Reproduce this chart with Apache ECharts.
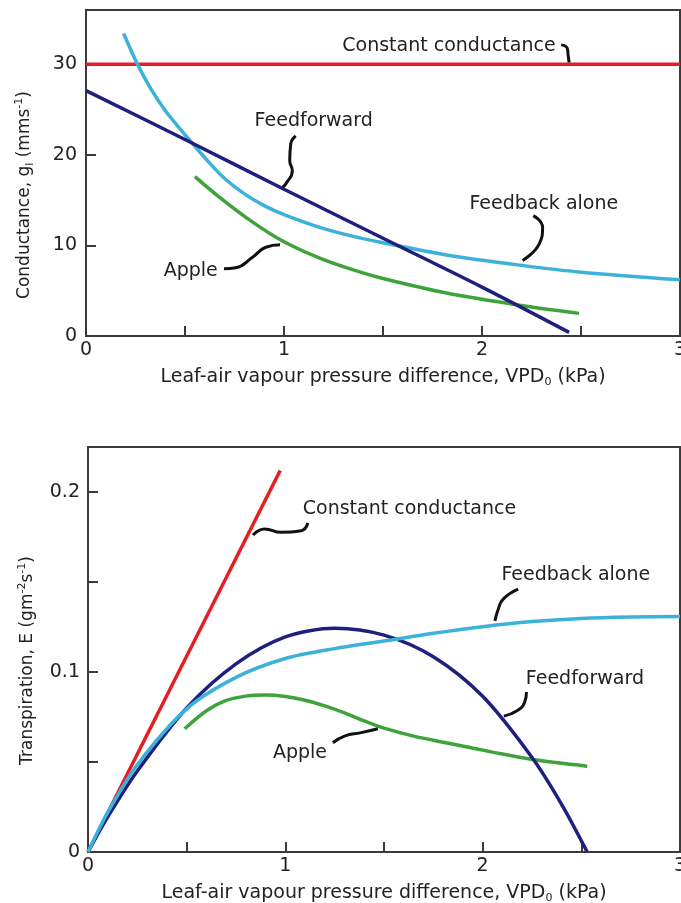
<!DOCTYPE html>
<html>
<head>
<meta charset="utf-8">
<script src="https://cdn.jsdelivr.net/npm/echarts@6/dist/echarts.min.js"></script>
<style>
  html, body { margin: 0; padding: 0; background: #fff; }
  #main { width: 681px; height: 903px; }
</style>
</head>
<body>
<div id="main"></div>
<script>
// tick labels
var xLabels = [0, 1, 2, 3];
var gLabels = [0, 10, 20, 30];
var eLabels = [0, 0.1, 0.2];

// top panel: conductance g (mm s-1) vs VPD (kPa)
var gConstVpd = [0, 3];
var gConst = [30, 30];
var gFfVpd = [0, 0.5, 1, 1.5, 2, 2.44];
var gFf = [27.1, 21.7, 16.2, 10.8, 5.4, 0.4];
var gFbVpd = [0.19, 0.26, 0.33, 0.40, 0.47, 0.54, 0.62, 0.70, 0.80, 0.90, 1.0, 1.18, 1.35, 1.5, 1.82, 2.2, 2.5, 3.0];
var gFb = [33.4, 30.0, 27.2, 24.9, 23.0, 21.2, 19.2, 17.4, 15.7, 14.4, 13.4, 12.0, 11.0, 10.3, 8.95, 7.8, 7.05, 6.2];
var gAppleVpd = [0.55, 0.67, 0.84, 1.0, 1.18, 1.35, 1.5, 1.82, 2.19, 2.49];
var gApple = [17.6, 15.4, 12.6, 10.4, 8.6, 7.3, 6.35, 4.75, 3.4, 2.5];

// bottom panel: transpiration E (g m-2 s-1) vs VPD (kPa)
var eConstVpd = [0, 0.974];
var eConst = [0, 0.2119];
var eFfVpd = [0, 0.1, 0.25, 0.5, 0.75, 1.0, 1.25, 1.5, 1.75, 2.0, 2.25, 2.4, 2.53];
var eFf = [0, 0.0195, 0.045, 0.080, 0.1045, 0.1195, 0.1243, 0.1205, 0.1085, 0.0865, 0.0525, 0.0265, 0];
var eFbVpd = [0, 0.1, 0.25, 0.5, 0.75, 1.0, 1.25, 1.5, 1.75, 2.0, 2.25, 2.5, 2.75, 3.0];
var eFb = [0, 0.022, 0.0485, 0.0795, 0.097, 0.1075, 0.113, 0.1172, 0.1215, 0.1252, 0.128, 0.1297, 0.1305, 0.1308];
var eAppleVpd = [0.49, 0.6, 0.7, 0.8, 0.9, 1.0, 1.1, 1.2, 1.3, 1.4, 1.5, 1.65, 1.82, 2.05, 2.26, 2.53];
var eApple = [0.0685, 0.0785, 0.0842, 0.0866, 0.0872, 0.0864, 0.0843, 0.0812, 0.0773, 0.0728, 0.0688, 0.0644, 0.0606, 0.0555, 0.0512, 0.0477];

// curve labels and their little hand-drawn leaders (data coords)
var topNotes = [
  { name: 'Constant conductance', at: [1.833, 32.0],
    leader: [[2.40, 32.15], [2.43, 31.8], [2.435, 31.0], [2.44, 30.2]] },
  { name: 'Feedforward', at: [1.15, 23.74],
    leader: [[1.059, 22.1], [1.034, 21.2], [1.029, 19.35], [1.042, 18.25], [1.009, 16.8], [0.992, 16.4]] },
  { name: 'Feedback alone', at: [2.312, 14.56],
    leader: [[2.259, 13.3], [2.306, 12.0], [2.289, 10.18], [2.205, 8.34]] },
  { name: 'Apple', at: [0.529, 7.18],
    leader: [[0.697, 7.42], [0.756, 7.53], [0.841, 8.7], [0.908, 9.8], [0.98, 10.07]] }
];
var bottomNotes = [
  { name: 'Constant conductance', at: [1.629, 0.1906],
    leader: [[1.114, 0.1828], [1.081, 0.1785], [0.979, 0.1776], [0.895, 0.1795], [0.836, 0.1761]] },
  { name: 'Feedback alone', at: [2.472, 0.1536],
    leader: [[2.18, 0.146], [2.104, 0.1405], [2.079, 0.1349], [2.062, 0.1284]] },
  { name: 'Feedforward', at: [2.518, 0.0962],
    leader: [[2.222, 0.0889], [2.212, 0.083], [2.172, 0.0783], [2.107, 0.0755]] },
  { name: 'Apple', at: [1.074, 0.0547],
    leader: [[1.241, 0.0607], [1.3, 0.0644], [1.384, 0.0663], [1.469, 0.0685]] }
];

var FONT = 'DejaVu Sans';
var AXIS = '#3a3a3a';
var TEXT = '#222';
var RED = '#e31e24', NAVY = '#1f1f7d', CYAN = '#3cb2da', GREEN = '#3ea33a';

function pairs(xs, ys) {
  return xs.map(function (x, i) { return [x, ys[i]]; });
}

function hasLabel(list, v) {
  for (var i = 0; i < list.length; i++) {
    if (Math.abs(list[i] - v) < 1e-9) return String(list[i]);
  }
  return '';
}

function curve(name, data, color, idx) {
  return {
    name: name, type: 'line', data: data, xAxisIndex: idx, yAxisIndex: idx,
    smooth: 0.3, symbol: 'none', silent: true,
    lineStyle: { color: color, width: 3.5 }
  };
}

function noteSeries(notes, idx) {
  var out = [];
  notes.forEach(function (n) {
    out.push({
      type: 'line', data: n.leader, xAxisIndex: idx, yAxisIndex: idx,
      smooth: 0.5, symbol: 'none', silent: true,
      lineStyle: { color: '#111', width: 3 }
    });
  });
  out.push({
    type: 'scatter', xAxisIndex: idx, yAxisIndex: idx, silent: true,
    symbolSize: 0, itemStyle: { opacity: 1 },
    data: notes.map(function (n) { return { name: n.name, value: n.at }; }),
    label: { show: true, position: 'inside', formatter: '{b}', opacity: 1,
      fontFamily: FONT, fontSize: 19, color: TEXT }
  });
  return out;
}

var subRich = {
  sub: { fontSize: 11, fontFamily: FONT, color: TEXT, verticalAlign: 'bottom', lineHeight: 22 },
  sup: { fontSize: 11, fontFamily: FONT, color: TEXT, verticalAlign: 'top', lineHeight: 22 }
};

function xAxis(idx) {
  return {
    type: 'value', gridIndex: idx, min: 0, max: 3, interval: 0.5,
    name: 'Leaf-air vapour pressure difference, VPD{sub|0} (kPa)',
    nameLocation: 'middle', nameGap: 30,
    nameTextStyle: { fontFamily: FONT, fontSize: 19, color: TEXT, lineHeight: 22, rich: subRich },
    axisLine: { onZero: false, lineStyle: { color: AXIS, width: 2 } },
    axisTick: { inside: true, length: 10, lineStyle: { color: AXIS, width: 2 } },
    axisLabel: { margin: 5, fontFamily: FONT, fontSize: 19, color: TEXT,
      formatter: function (v) { return hasLabel(xLabels, v); } },
    splitLine: { show: false }
  };
}

var chart = echarts.init(document.getElementById('main'));

var option = {
  animation: false,
  backgroundColor: '#fff',
  grid: [
    { left: 86, right: 1, top: 10, height: 326, outerBoundsMode: 'none',
      show: true, borderColor: AXIS, borderWidth: 2 },
    { left: 88, right: 1, top: 447, height: 405, outerBoundsMode: 'none',
      show: true, borderColor: AXIS, borderWidth: 2 }
  ],
  xAxis: [xAxis(0), xAxis(1)],
  yAxis: [
    {
      type: 'value', gridIndex: 0, min: 0, max: 36, interval: 10,
      name: 'Conductance, g{sub|l} (mms{sup|-1})',
      nameLocation: 'middle', nameGap: 50,
      nameTextStyle: { fontFamily: FONT, fontSize: 17, color: TEXT, lineHeight: 22,
        rich: subRich, padding: [0, 44, 0, 0] },
      axisLine: { onZero: false, lineStyle: { color: AXIS, width: 2 } },
      axisTick: { inside: true, length: 10, lineStyle: { color: AXIS, width: 2 } },
      axisLabel: { margin: 9, fontFamily: FONT, fontSize: 19, color: TEXT,
        formatter: function (v) { return hasLabel(gLabels, v); } },
      splitLine: { show: false }
    },
    {
      type: 'value', gridIndex: 1, min: 0, max: 0.225, interval: 0.05,
      name: 'Transpiration, E (gm{sup|-2}s{sup|-1})',
      nameLocation: 'middle', nameGap: 49,
      nameTextStyle: { fontFamily: FONT, fontSize: 17, color: TEXT, lineHeight: 22,
        rich: subRich, padding: [0, 22, 0, 0] },
      axisLine: { onZero: false, lineStyle: { color: AXIS, width: 2 } },
      axisTick: { inside: true, length: 10, lineStyle: { color: AXIS, width: 2 } },
      axisLabel: { margin: 8, fontFamily: FONT, fontSize: 19, color: TEXT,
        formatter: function (v) { return hasLabel(eLabels, v); } },
      splitLine: { show: false }
    }
  ],
  series: [
    curve('Constant conductance', pairs(gConstVpd, gConst), RED, 0),
    curve('Feedback alone', pairs(gFbVpd, gFb), CYAN, 0),
    curve('Apple', pairs(gAppleVpd, gApple), GREEN, 0),
    curve('Feedforward', pairs(gFfVpd, gFf), NAVY, 0),
    curve('Constant conductance', pairs(eConstVpd, eConst), RED, 1),
    curve('Apple', pairs(eAppleVpd, eApple), GREEN, 1),
    curve('Feedforward', pairs(eFfVpd, eFf), NAVY, 1),
    curve('Feedback alone', pairs(eFbVpd, eFb), CYAN, 1)
  ].concat(noteSeries(topNotes, 0), noteSeries(bottomNotes, 1))
};

chart.setOption(option);
</script>
</body>
</html>
